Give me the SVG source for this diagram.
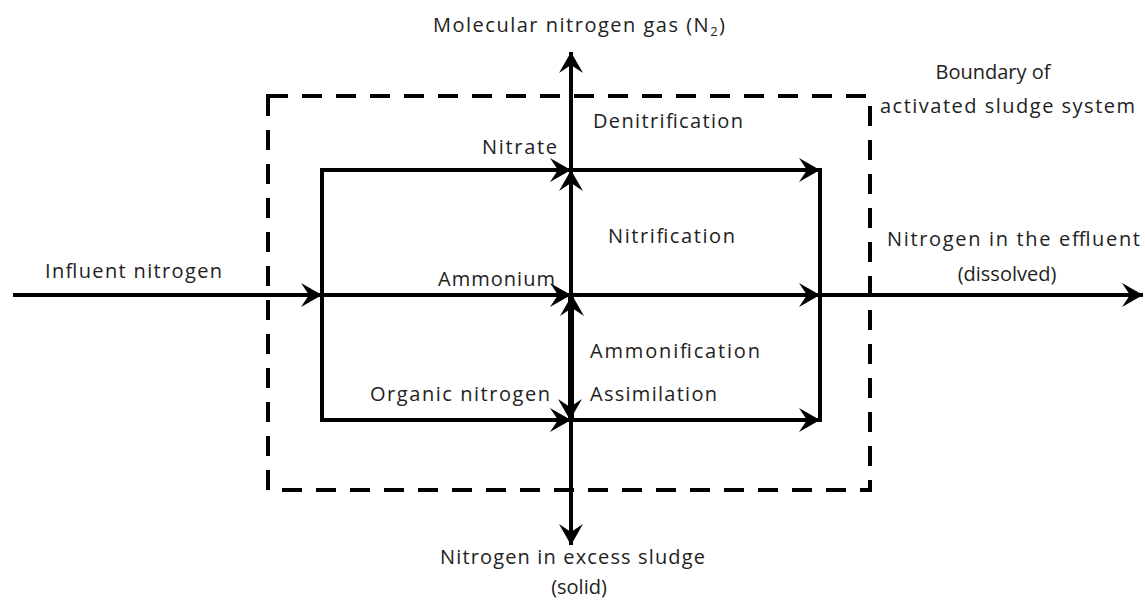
<svg xmlns="http://www.w3.org/2000/svg" width="1145" height="601" viewBox="0 0 1145 601">
<style>
.ln{stroke:#000;stroke-width:4;fill:none}
.bd{stroke:#000;stroke-width:4;fill:none;stroke-dasharray:20 14}
text{font-family:"Open Sans","Liberation Sans",sans-serif;font-size:20px;fill:#222}
.m{text-anchor:middle}
</style>
<defs>
<marker id="ah" markerUnits="userSpaceOnUse" markerWidth="22" markerHeight="24" refX="21" refY="12" orient="auto" viewBox="0 0 22 24">
<path d="M0,0 L21,12 L0,24 L8,12 Z" fill="#000"/>
</marker>
</defs>
<rect width="1145" height="601" fill="#fff"/>
<g id="boundary"><rect class="bd" x="268" y="96" width="602" height="394"/></g>
<g id="connectors">
<line class="ln" x1="13" y1="295" x2="322" y2="295" marker-end="url(#ah)"/>
<line class="ln" x1="322" y1="168" x2="322" y2="422"/>
<line class="ln" x1="820" y1="168" x2="820" y2="422"/>
<line class="ln" x1="320" y1="170" x2="571" y2="170" marker-end="url(#ah)"/>
<line class="ln" x1="322" y1="295" x2="571" y2="295" marker-end="url(#ah)"/>
<line class="ln" x1="320" y1="420" x2="571" y2="420" marker-end="url(#ah)"/>
<line class="ln" x1="571" y1="170" x2="820" y2="170" marker-end="url(#ah)"/>
<line class="ln" x1="571" y1="295" x2="820" y2="295" marker-end="url(#ah)"/>
<line class="ln" x1="571" y1="420" x2="820" y2="420" marker-end="url(#ah)"/>
<line class="ln" x1="822" y1="295" x2="1143" y2="295" marker-end="url(#ah)"/>
<line class="ln" x1="571" y1="170" x2="571" y2="52" marker-end="url(#ah)"/>
<line class="ln" x1="571" y1="295" x2="571" y2="170" marker-end="url(#ah)"/>
<line class="ln" x1="572" y1="420" x2="572" y2="295" marker-end="url(#ah)"/>
<line class="ln" x1="570" y1="295" x2="570" y2="420" marker-end="url(#ah)"/>
<line class="ln" x1="571" y1="420" x2="571" y2="545" marker-end="url(#ah)"/>
</g>
<g id="labels">
<text x="433" y="32" textLength="292">Molecular nitrogen gas (N<tspan font-size="13" dy="4">2</tspan><tspan dy="-4">)</tspan></text>
<text x="593" y="128" textLength="150">Denitrification</text>
<text x="482" y="154" textLength="75">Nitrate</text>
<text x="608" y="243" textLength="127">Nitrification</text>
<text x="45" y="278" textLength="177">Influent nitrogen</text>
<text x="438" y="286" textLength="117">Ammonium</text>
<text x="590" y="358" textLength="170">Ammonification</text>
<text x="590" y="401" textLength="127">Assimilation</text>
<text x="370" y="401" textLength="180">Organic nitrogen</text>
<text class="m" x="993" y="79">Boundary of</text>
<text x="880" y="113" textLength="255">activated sludge system</text>
<text x="887" y="246" textLength="253">Nitrogen in the effluent</text>
<text class="m" x="1007" y="281">(dissolved)</text>
<text x="440" y="564" textLength="265">Nitrogen in excess sludge</text>
<text class="m" x="579" y="594">(solid)</text>
</g>
</svg>
